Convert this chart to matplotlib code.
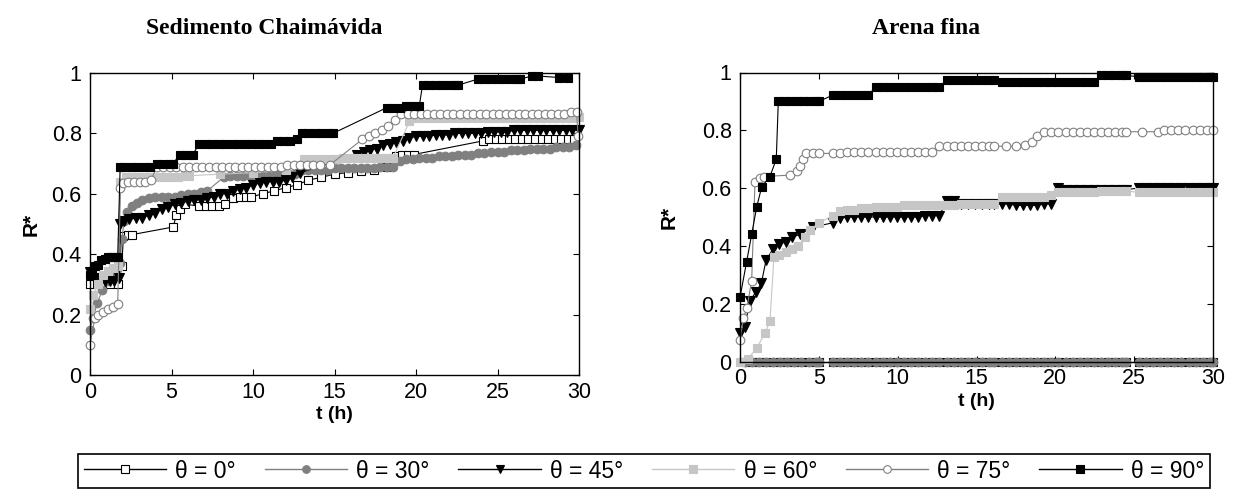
import matplotlib
matplotlib.use("Agg")
import matplotlib.pyplot as plt
from matplotlib.lines import Line2D

plt.rcParams['font.family'] = ['Liberation Sans', 'DejaVu Sans']

# ---- Sedimento Chaimávida: (t [h], R*) ----
sed_0 = [(0.0, 0.30), (0.45, 0.30), (0.85, 0.30), (1.25, 0.30), (1.7, 0.30), (1.95, 0.36),
         (2.05, 0.46), (2.35, 0.465), (2.6, 0.465), (5.1, 0.49), (5.3, 0.53), (5.5, 0.55),
         (5.8, 0.565), (6.7, 0.56), (7.1, 0.56), (7.5, 0.56), (7.9, 0.56), (8.3, 0.565),
         (8.8, 0.585), (9.2, 0.59), (9.6, 0.59), (9.9, 0.59), (10.6, 0.60), (11.3, 0.61),
         (12.0, 0.62), (12.7, 0.63), (13.4, 0.645), (14.2, 0.655), (15.0, 0.665), (15.8, 0.67),
         (16.6, 0.675), (17.4, 0.68), (18.2, 0.69), (18.8, 0.725), (19.15, 0.73), (19.5, 0.73),
         (19.85, 0.73), (24.1, 0.775), (24.5, 0.78), (24.9, 0.78), (25.3, 0.78), (25.7, 0.78),
         (26.1, 0.78), (26.5, 0.78), (26.9, 0.78), (27.3, 0.78), (27.7, 0.78), (28.1, 0.78),
         (28.5, 0.78), (28.9, 0.78), (29.3, 0.78), (29.7, 0.78)]

sed_30 = [(0.0, 0.15), (0.2, 0.19), (0.45, 0.24), (0.75, 0.28), (1.05, 0.31), (1.35, 0.33),
          (1.65, 0.35), (1.85, 0.37), (1.95, 0.45), (2.1, 0.51), (2.3, 0.54), (2.6, 0.56),
          (2.9, 0.57), (3.2, 0.58), (3.6, 0.585), (4.0, 0.59), (4.4, 0.59), (4.8, 0.59),
          (5.2, 0.59), (5.6, 0.595), (6.0, 0.60), (6.4, 0.60), (6.8, 0.605), (7.2, 0.61),
          (8.2, 0.655), (8.6, 0.66), (9.0, 0.66), (9.4, 0.66), (9.8, 0.66), (10.2, 0.66),
          (10.6, 0.66), (11.0, 0.66), (11.4, 0.665), (11.8, 0.665), (12.2, 0.665), (12.6, 0.665),
          (13.0, 0.68), (13.4, 0.68), (13.8, 0.68), (14.2, 0.68), (14.6, 0.68), (15.0, 0.685),
          (15.4, 0.685), (15.8, 0.685), (16.2, 0.685), (16.6, 0.685), (17.0, 0.685), (17.4, 0.685),
          (17.8, 0.69), (18.2, 0.69), (18.6, 0.69), (19.0, 0.71), (19.4, 0.715), (19.8, 0.715),
          (20.2, 0.72), (20.6, 0.72), (21.0, 0.72), (21.4, 0.725), (21.8, 0.725), (22.2, 0.725),
          (22.6, 0.73), (23.0, 0.73), (23.4, 0.73), (23.8, 0.735), (24.2, 0.735), (24.6, 0.74),
          (25.0, 0.74), (25.4, 0.74), (25.8, 0.745), (26.2, 0.745), (26.6, 0.745), (27.0, 0.75),
          (27.4, 0.75), (27.8, 0.75), (28.2, 0.75), (28.6, 0.755), (29.0, 0.755), (29.4, 0.755),
          (29.8, 0.76)]

sed_45 = [(0.0, 0.34), (0.3, 0.32), (0.6, 0.31), (0.9, 0.31), (1.2, 0.31), (1.5, 0.31),
          (1.8, 0.32), (1.87, 0.50), (2.1, 0.51), (2.4, 0.515), (2.8, 0.52), (3.2, 0.52),
          (3.6, 0.53), (4.0, 0.535), (4.4, 0.55), (4.8, 0.555), (5.2, 0.565), (5.6, 0.57),
          (6.0, 0.575), (6.4, 0.58), (6.8, 0.58), (7.2, 0.585), (7.6, 0.59), (8.0, 0.60),
          (8.4, 0.60), (8.8, 0.61), (9.2, 0.615), (9.6, 0.62), (10.0, 0.63), (10.4, 0.635),
          (10.8, 0.64), (11.2, 0.64), (11.6, 0.64), (12.0, 0.645), (12.4, 0.655), (12.9, 0.67),
          (16.4, 0.73), (16.8, 0.74), (17.2, 0.745), (17.6, 0.75), (18.0, 0.76), (18.4, 0.765),
          (18.8, 0.77), (19.2, 0.775), (19.6, 0.785), (20.0, 0.79), (20.4, 0.79), (20.8, 0.79),
          (21.2, 0.795), (21.6, 0.795), (22.0, 0.795), (22.4, 0.80), (22.8, 0.80), (23.2, 0.80),
          (23.6, 0.80), (24.0, 0.80), (24.4, 0.805), (24.8, 0.805), (25.2, 0.805), (25.6, 0.805),
          (26.0, 0.81), (26.4, 0.81), (26.8, 0.81), (27.2, 0.81), (27.6, 0.81), (28.0, 0.81),
          (28.4, 0.81), (28.8, 0.81), (29.2, 0.81), (29.6, 0.81), (30.0, 0.81)]

sed_60 = [(0.0, 0.22), (0.2, 0.265), (0.5, 0.30), (0.8, 0.33), (1.1, 0.345), (1.4, 0.355),
          (1.7, 0.36), (1.87, 0.64), (2.2, 0.655), (2.6, 0.655), (3.0, 0.655), (3.4, 0.655),
          (3.8, 0.655), (4.2, 0.655), (4.6, 0.655), (5.0, 0.655), (5.4, 0.655), (5.8, 0.66),
          (6.1, 0.66), (8.0, 0.665), (10.0, 0.67), (12.0, 0.68), (13.1, 0.715), (13.5, 0.715),
          (13.9, 0.715), (14.3, 0.715), (14.7, 0.715), (15.1, 0.715), (15.5, 0.72), (15.9, 0.72),
          (16.3, 0.72), (16.7, 0.72), (17.1, 0.72), (17.5, 0.72), (17.9, 0.72), (18.3, 0.72),
          (18.6, 0.72), (19.6, 0.84), (20.0, 0.85), (20.4, 0.85), (20.8, 0.85), (21.2, 0.85),
          (21.6, 0.85), (22.0, 0.85), (22.4, 0.85), (22.8, 0.85), (23.2, 0.85), (23.6, 0.85),
          (24.0, 0.85), (24.4, 0.85), (24.8, 0.85), (25.2, 0.85), (25.6, 0.85), (26.0, 0.85),
          (26.4, 0.85), (26.8, 0.85), (27.2, 0.85), (27.6, 0.85), (28.0, 0.85), (28.4, 0.85),
          (28.8, 0.85), (29.2, 0.85), (29.6, 0.85), (30.0, 0.855)]

sed_75 = [(0.0, 0.10), (0.3, 0.19), (0.5, 0.20), (0.8, 0.21), (1.1, 0.22), (1.4, 0.225),
          (1.7, 0.235), (1.87, 0.62), (2.0, 0.635), (2.35, 0.64), (2.7, 0.64), (3.05, 0.64),
          (3.4, 0.64), (3.75, 0.645), (4.1, 0.69), (4.5, 0.69), (4.9, 0.69), (5.3, 0.69),
          (5.7, 0.69), (6.1, 0.69), (6.5, 0.69), (6.9, 0.69), (7.3, 0.69), (7.7, 0.69),
          (8.1, 0.69), (8.5, 0.69), (8.9, 0.69), (9.3, 0.69), (9.7, 0.69), (10.1, 0.69),
          (10.5, 0.69), (10.9, 0.69), (11.3, 0.69), (11.7, 0.69), (12.1, 0.695), (12.5, 0.695),
          (12.9, 0.695), (13.3, 0.695), (13.7, 0.695), (14.1, 0.695), (14.7, 0.695), (16.7, 0.78),
          (17.1, 0.79), (17.5, 0.80), (17.9, 0.81), (18.3, 0.825), (18.7, 0.845), (19.1, 0.865),
          (19.5, 0.865), (19.9, 0.865), (20.3, 0.865), (20.7, 0.865), (21.1, 0.865), (21.5, 0.865),
          (21.9, 0.865), (22.3, 0.865), (22.7, 0.865), (23.1, 0.865), (23.5, 0.865), (23.9, 0.865),
          (24.3, 0.865), (24.7, 0.865), (25.1, 0.865), (25.5, 0.865), (25.9, 0.865), (26.3, 0.865),
          (26.7, 0.865), (27.1, 0.865), (27.5, 0.865), (27.9, 0.865), (28.3, 0.865), (28.7, 0.865),
          (29.1, 0.865), (29.5, 0.87), (29.85, 0.87), (29.95, 0.79)]

sed_90 = [(0.0, 0.33), (0.15, 0.345), (0.3, 0.36), (0.5, 0.365), (0.7, 0.38), (0.9, 0.385),
          (1.1, 0.39), (1.3, 0.39), (1.5, 0.39), (1.7, 0.39), (1.85, 0.69), (2.1, 0.69),
          (2.5, 0.69), (2.9, 0.69), (3.3, 0.69), (3.7, 0.69), (4.1, 0.70), (4.5, 0.70),
          (4.9, 0.70), (5.1, 0.70), (5.5, 0.73), (5.9, 0.73), (6.3, 0.73), (6.7, 0.765),
          (7.1, 0.765), (7.5, 0.765), (7.9, 0.765), (8.3, 0.765), (8.7, 0.765), (9.1, 0.765),
          (9.5, 0.765), (9.9, 0.765), (10.3, 0.765), (10.7, 0.765), (11.1, 0.765), (11.5, 0.775),
          (11.9, 0.775), (12.3, 0.775), (12.7, 0.78), (13.0, 0.80), (13.4, 0.80), (13.8, 0.80),
          (14.2, 0.80), (14.6, 0.80), (14.9, 0.80), (18.2, 0.885), (18.6, 0.885), (19.0, 0.885),
          (19.4, 0.89), (19.8, 0.89), (20.2, 0.89), (20.4, 0.96), (20.8, 0.96), (21.2, 0.96),
          (21.6, 0.96), (22.0, 0.96), (22.4, 0.96), (22.6, 0.96), (23.8, 0.98), (24.2, 0.98),
          (24.6, 0.98), (25.0, 0.98), (25.4, 0.98), (25.8, 0.98), (26.2, 0.98), (26.4, 0.98),
          (27.1, 0.99), (27.5, 0.99), (28.8, 0.985), (29.3, 0.985)]

# ---- Arena fina: (t [h], R*) ----
arena_0 = [(0.3, 0.0), (0.75, 0.0), (1.2, 0.0), (1.65, 0.0), (2.1, 0.0), (2.55, 0.0),
           (3.0, 0.0), (3.45, 0.0), (3.9, 0.0), (4.35, 0.0), (4.8, 0.0), (5.0, 0.0),
           (5.9, 0.0), (6.35, 0.0), (6.8, 0.0), (7.25, 0.0), (7.7, 0.0), (8.15, 0.0),
           (8.6, 0.0), (9.05, 0.0), (9.5, 0.0), (9.95, 0.0), (10.4, 0.0), (10.85, 0.0),
           (11.3, 0.0), (11.75, 0.0), (12.2, 0.0), (12.65, 0.0), (13.1, 0.0), (13.55, 0.0),
           (14.0, 0.0), (14.45, 0.0), (14.9, 0.0), (15.35, 0.0), (15.8, 0.0), (16.1, 0.0),
           (16.6, 0.0), (17.05, 0.0), (17.5, 0.0), (17.95, 0.0), (18.4, 0.0), (18.85, 0.0),
           (19.3, 0.0), (19.75, 0.0), (20.2, 0.0), (20.65, 0.0), (21.1, 0.0), (21.55, 0.0),
           (22.0, 0.0), (22.45, 0.0), (22.9, 0.0), (23.35, 0.0), (23.8, 0.0), (24.25, 0.0),
           (24.5, 0.0), (25.3, 0.0), (25.75, 0.0), (26.2, 0.0), (26.65, 0.0), (27.1, 0.0),
           (27.55, 0.0), (28.0, 0.0), (28.45, 0.0), (28.9, 0.0), (29.35, 0.0), (29.8, 0.0),
           (30.0, 0.0)]

arena_30 = [(0.3, 0.0), (0.75, 0.0), (1.2, 0.0), (1.65, 0.0), (2.1, 0.0), (2.55, 0.0),
            (3.0, 0.0), (3.45, 0.0), (3.9, 0.0), (4.35, 0.0), (4.8, 0.0), (5.0, 0.0),
            (5.9, 0.0), (6.35, 0.0), (6.8, 0.0), (7.25, 0.0), (7.7, 0.0), (8.15, 0.0),
            (8.6, 0.0), (9.05, 0.0), (9.5, 0.0), (9.95, 0.0), (10.4, 0.0), (10.85, 0.0),
            (11.3, 0.0), (11.75, 0.0), (12.2, 0.0), (12.65, 0.0), (13.1, 0.0), (13.55, 0.0),
            (14.0, 0.0), (14.45, 0.0), (14.9, 0.0), (15.35, 0.0), (15.8, 0.0), (16.1, 0.0),
            (16.6, 0.0), (17.05, 0.0), (17.5, 0.0), (17.95, 0.0), (18.4, 0.0), (18.85, 0.0),
            (19.3, 0.0), (19.75, 0.0), (20.2, 0.0), (20.65, 0.0), (21.1, 0.0), (21.55, 0.0),
            (22.0, 0.0), (22.45, 0.0), (22.9, 0.0), (23.35, 0.0), (23.8, 0.0), (24.25, 0.0),
            (24.5, 0.0), (25.3, 0.0), (25.75, 0.0), (26.2, 0.0), (26.65, 0.0), (27.1, 0.0),
            (27.55, 0.0), (28.0, 0.0), (28.45, 0.0), (28.9, 0.0), (29.35, 0.0), (29.8, 0.0),
            (30.0, 0.0)]

arena_45 = [(0.0, 0.10), (0.3, 0.12), (0.63, 0.21), (1.0, 0.24), (1.35, 0.27), (1.65, 0.35),
            (2.1, 0.39), (2.5, 0.405), (2.9, 0.415), (3.3, 0.43), (3.8, 0.44), (4.6, 0.465),
            (5.9, 0.48), (6.35, 0.495), (6.8, 0.50), (7.25, 0.50), (7.7, 0.50), (8.15, 0.50),
            (8.6, 0.50), (9.05, 0.50), (9.5, 0.50), (9.95, 0.50), (10.4, 0.50), (10.85, 0.50),
            (11.3, 0.50), (11.75, 0.505), (12.2, 0.505), (12.65, 0.505), (13.1, 0.555), (13.55, 0.555),
            (14.0, 0.545), (14.45, 0.545), (14.9, 0.545), (15.35, 0.545), (15.8, 0.545), (16.1, 0.545),
            (16.6, 0.545), (17.05, 0.545), (17.5, 0.54), (17.95, 0.54), (18.4, 0.54), (18.85, 0.54),
            (19.3, 0.545), (19.75, 0.545), (20.2, 0.60), (20.65, 0.595), (21.1, 0.595), (21.55, 0.595),
            (22.0, 0.595), (22.45, 0.595), (22.9, 0.595), (23.35, 0.595), (23.8, 0.595), (24.25, 0.595),
            (24.5, 0.595), (25.3, 0.60), (25.75, 0.60), (26.2, 0.60), (26.65, 0.60), (27.1, 0.60),
            (27.55, 0.60), (28.0, 0.60), (28.45, 0.60), (28.9, 0.60), (29.35, 0.60), (29.8, 0.60),
            (30.0, 0.60)]

arena_60 = [(0.0, 0.0), (0.5, 0.01), (1.05, 0.045), (1.6, 0.10), (1.9, 0.14), (2.15, 0.36),
            (2.5, 0.37), (2.9, 0.38), (3.3, 0.39), (3.7, 0.40), (4.1, 0.43), (4.45, 0.455),
            (5.0, 0.48), (5.9, 0.505), (6.35, 0.52), (6.8, 0.525), (7.25, 0.525), (7.7, 0.53),
            (8.15, 0.53), (8.6, 0.535), (9.05, 0.535), (9.5, 0.535), (9.95, 0.535), (10.4, 0.54),
            (10.85, 0.54), (11.3, 0.54), (11.75, 0.54), (12.2, 0.54), (12.65, 0.54), (13.1, 0.54),
            (13.55, 0.54), (14.0, 0.545), (14.45, 0.545), (14.9, 0.545), (15.35, 0.545), (15.8, 0.545),
            (16.1, 0.545), (16.6, 0.57), (17.05, 0.57), (17.5, 0.57), (17.95, 0.57), (18.4, 0.57),
            (18.85, 0.57), (19.3, 0.57), (19.75, 0.575), (20.2, 0.585), (20.65, 0.585), (21.1, 0.585),
            (21.55, 0.585), (22.0, 0.585), (22.45, 0.585), (22.9, 0.59), (23.35, 0.59), (23.8, 0.59),
            (24.25, 0.59), (24.5, 0.59), (25.3, 0.585), (25.75, 0.585), (26.2, 0.585), (26.65, 0.585),
            (27.1, 0.585), (27.55, 0.585), (28.0, 0.585), (28.45, 0.585), (28.9, 0.585), (29.35, 0.585),
            (29.8, 0.585), (30.0, 0.585)]

arena_75 = [(0.0, 0.075), (0.22, 0.15), (0.44, 0.185), (0.74, 0.28), (0.95, 0.62), (1.27, 0.635),
            (1.5, 0.64), (3.2, 0.645), (3.6, 0.66), (3.8, 0.675), (4.0, 0.70), (4.2, 0.72),
            (4.6, 0.72), (5.0, 0.72), (5.9, 0.72), (6.35, 0.72), (6.8, 0.725), (7.25, 0.725),
            (7.7, 0.725), (8.15, 0.725), (8.6, 0.725), (9.05, 0.725), (9.5, 0.725), (9.95, 0.725),
            (10.4, 0.725), (10.85, 0.725), (11.3, 0.725), (11.75, 0.725), (12.2, 0.725), (12.65, 0.745),
            (13.1, 0.745), (13.55, 0.745), (14.0, 0.745), (14.45, 0.745), (14.9, 0.745), (15.35, 0.745),
            (15.8, 0.745), (16.1, 0.745), (16.9, 0.745), (17.5, 0.745), (18.1, 0.75), (18.5, 0.76),
            (18.85, 0.78), (19.3, 0.795), (19.75, 0.795), (20.2, 0.795), (20.65, 0.795), (21.1, 0.795),
            (21.55, 0.795), (22.0, 0.795), (22.45, 0.795), (22.9, 0.795), (23.35, 0.795), (23.8, 0.795),
            (24.25, 0.795), (24.5, 0.795), (25.5, 0.795), (26.5, 0.795), (26.9, 0.80), (27.35, 0.80),
            (27.8, 0.80), (28.25, 0.80), (28.7, 0.80), (29.15, 0.80), (29.6, 0.80), (30.0, 0.80)]

arena_90 = [(0.0, 0.222), (0.42, 0.345), (0.74, 0.44), (1.06, 0.535), (1.38, 0.605), (1.9, 0.64),
            (2.3, 0.70), (2.43, 0.90), (2.8, 0.90), (3.2, 0.90), (3.6, 0.90), (4.0, 0.90),
            (4.4, 0.90), (4.8, 0.90), (5.0, 0.90), (5.9, 0.922), (6.35, 0.922), (6.8, 0.922),
            (7.25, 0.922), (7.7, 0.922), (8.15, 0.922), (8.6, 0.95), (9.05, 0.95), (9.5, 0.95),
            (9.95, 0.95), (10.4, 0.95), (10.85, 0.95), (11.3, 0.95), (11.75, 0.95), (12.2, 0.95),
            (12.65, 0.95), (13.1, 0.974), (13.55, 0.974), (14.0, 0.974), (14.45, 0.974), (14.9, 0.974),
            (15.35, 0.974), (15.8, 0.974), (16.1, 0.974), (16.6, 0.968), (17.05, 0.968), (17.5, 0.968),
            (17.95, 0.968), (18.4, 0.968), (18.85, 0.968), (19.3, 0.968), (19.75, 0.968), (20.2, 0.968),
            (20.65, 0.968), (21.1, 0.968), (21.55, 0.968), (22.0, 0.968), (22.45, 0.968), (22.9, 0.99),
            (23.35, 0.99), (23.8, 0.99), (24.25, 0.99), (24.5, 0.99), (25.3, 0.985), (25.75, 0.985),
            (26.2, 0.985), (26.65, 0.985), (27.1, 0.985), (27.55, 0.985), (28.0, 0.985), (28.45, 0.985),
            (28.9, 0.985), (29.35, 0.985), (29.8, 0.985), (30.0, 0.985)]

angle_labels = ["θ = 0°", "θ = 30°", "θ = 45°", "θ = 60°", "θ = 75°", "θ = 90°"]
x_ticks = [0, 5, 10, 15, 20, 25, 30]
y_ticks = [0, 0.2, 0.4, 0.6, 0.8, 1.0]
y_tick_labels = ["0", "0.2", "0.4", "0.6", "0.8", "1"]
panel_titles = ["Sedimento Chaimávida", "Arena fina"]

GRAY = "#808080"
LIGHT = "#c6c6c6"
styles = [
    dict(color="black", marker="s", mfc="white", mec="black", ms=6.2),
    dict(color=GRAY, marker="o", mfc=GRAY, mec=GRAY, ms=6.2),
    dict(color="black", marker="v", mfc="black", mec="black", ms=6.8),
    dict(color=LIGHT, marker="s", mfc=LIGHT, mec=LIGHT, ms=6.2),
    dict(color=GRAY, marker="o", mfc="white", mec=GRAY, ms=6.2),
    dict(color="black", marker="s", mfc="black", mec="black", ms=6.2),
]

fig = plt.figure(figsize=(12.38, 4.97), dpi=100)
ax_l = fig.add_axes([90 / 1238, 1 - 375 / 497, 489 / 1238, 302 / 497])
ax_r = fig.add_axes([740 / 1238, 1 - 361.5 / 497, 473 / 1238, 289 / 497])

panels = [
    (ax_l, [sed_0, sed_30, sed_45, sed_60, sed_75, sed_90]),
    (ax_r, [arena_0, arena_30, arena_45, arena_60, arena_75, arena_90]),
]

for ax, series in panels:
    for data, st in zip(series, styles):
        t = [p[0] for p in data]
        r = [p[1] for p in data]
        ax.plot(t, r, color=st["color"], lw=0.8, marker=st["marker"],
                markersize=st["ms"], markerfacecolor=st["mfc"],
                markeredgecolor=st["mec"], markeredgewidth=0.8, clip_on=False)
    ax.set_xlim(0, 30)
    ax.set_ylim(0, 1)
    ax.set_xticks(x_ticks)
    ax.set_yticks(y_ticks)
    ax.set_yticklabels(y_tick_labels)
    ax.tick_params(direction="in", top=True, right=True, length=4, width=0.8,
                   labelsize=15.5)
    ax.tick_params(axis="x", pad=5)
    ax.tick_params(axis="y", pad=6)
    for s in ax.spines.values():
        s.set_linewidth(1.0)
    ax.set_xlabel("t (h)", fontsize=14, fontweight="bold")
    ax.set_ylabel("R*", fontsize=15, fontweight="bold")

ax_l.xaxis.set_label_coords(0.5, -0.104)
ax_r.xaxis.set_label_coords(0.5, -0.109)
ax_l.yaxis.set_label_coords(-0.10, 0.5)
ax_r.yaxis.set_label_coords(-0.13, 0.5)

fig.text(264 / 1238, 1 - 28 / 497, panel_titles[0], ha="center", va="center",
         fontsize=17, fontweight="bold", family=["Liberation Serif", "DejaVu Serif"])
fig.text(926 / 1238, 1 - 28 / 497, panel_titles[1], ha="center", va="center",
         fontsize=17, fontweight="bold", family=["Liberation Serif", "DejaVu Serif"])

handles = [Line2D([], [], color=st["color"], lw=1.0, marker=st["marker"],
                  markersize=5.5, markerfacecolor=st["mfc"],
                  markeredgecolor=st["mec"], markeredgewidth=0.8)
           for st in styles]
leg = fig.legend(handles, angle_labels, loc="center", ncol=6, mode="expand",
                 bbox_to_anchor=(78 / 1238, 1 - 471 / 497, 1132 / 1238, 0.0),
                 fontsize=16.5, handlelength=3.6, handletextpad=0.4,
                 borderpad=0.25, frameon=True, fancybox=False, framealpha=1,
                 edgecolor="black", borderaxespad=0)
leg.get_frame().set_linewidth(1.2)

fig.savefig("out.png", dpi=100)
